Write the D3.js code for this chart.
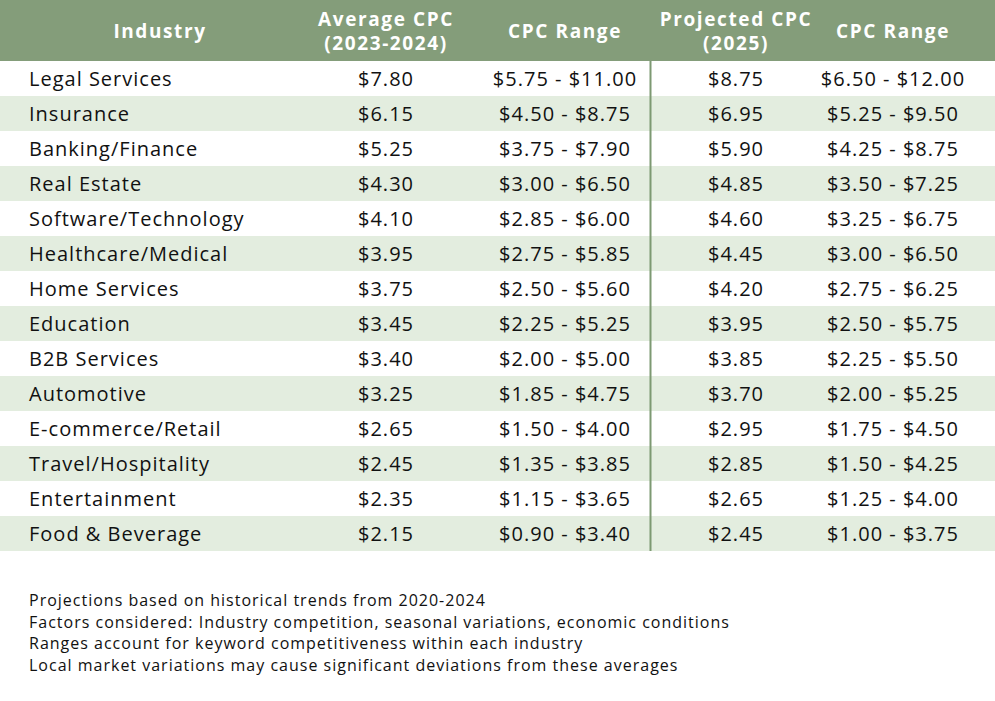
<!DOCTYPE html>
<html><head><meta charset="utf-8">
<script src="https://cdn.jsdelivr.net/npm/d3@7"></script>
<style>
html,body{margin:0;padding:0;background:#fff;}
svg{display:block;}
</style></head>
<body>
<svg id="chart" width="995" height="701"></svg>
<script>
const headers = [["Industry"], ["Average CPC", "(2023-2024)"], ["CPC Range"], ["Projected CPC", "(2025)"], ["CPC Range"]];
const industries = ["Legal Services","Insurance","Banking/Finance","Real Estate","Software/Technology","Healthcare/Medical","Home Services","Education","B2B Services","Automotive","E-commerce/Retail","Travel/Hospitality","Entertainment","Food & Beverage"];
const avgCpc = [7.80,6.15,5.25,4.30,4.10,3.95,3.75,3.45,3.40,3.25,2.65,2.45,2.35,2.15];
const avgLow = [5.75,4.50,3.75,3.00,2.85,2.75,2.50,2.25,2.00,1.85,1.50,1.35,1.15,0.90];
const avgHigh = [11.00,8.75,7.90,6.50,6.00,5.85,5.60,5.25,5.00,4.75,4.00,3.85,3.65,3.40];
const projCpc = [8.75,6.95,5.90,4.85,4.60,4.45,4.20,3.95,3.85,3.70,2.95,2.85,2.65,2.45];
const projLow = [6.50,5.25,4.25,3.50,3.25,3.00,2.75,2.50,2.25,2.00,1.75,1.50,1.25,1.00];
const projHigh = [12.00,9.50,8.75,7.25,6.75,6.50,6.25,5.75,5.50,5.25,4.50,4.25,4.00,3.75];
const notes = ["Projections based on historical trends from 2020-2024","Factors considered: Industry competition, seasonal variations, economic conditions","Ranges account for keyword competitiveness within each industry","Local market variations may cause significant deviations from these averages"];

const W = 995, H = 701;
const font = "'Open Sans', Lato, sans-serif";
const svg = d3.select("#chart");
const fmt = d3.format("$.2f");

const headerH = 61;
const y = d3.scaleBand().domain(industries).range([headerH, headerH + 35*industries.length]);
const colCenters = [160, 386, 565, 736, 893];
const textLeft = 29;

// header
svg.append("rect").attr("x",0).attr("y",0).attr("width",W).attr("height",headerH).attr("fill","#849d7a");
headers.forEach((lines,i)=>{
  const y0 = lines.length===1 ? 37.5 : 25.5;
  lines.forEach((l,j)=>{
    svg.append("text").attr("x",colCenters[i]).attr("y",y0 + j*24.5).attr("text-anchor","middle")
      .attr("font-family",font).attr("font-weight",700).attr("font-size",19).attr("letter-spacing",1.6)
      .attr("fill","#fff").text(l);
  });
});

const rows = industries.map((d,i)=>({
  name:d,
  cells:[fmt(avgCpc[i]), fmt(avgLow[i])+" - "+fmt(avgHigh[i]), fmt(projCpc[i]), fmt(projLow[i])+" - "+fmt(projHigh[i])]
}));

const g = svg.selectAll("g.row").data(rows).join("g").attr("class","row")
  .attr("transform",d=>`translate(0,${y(d.name)})`);
g.append("rect").attr("x",0).attr("width",W).attr("height",y.bandwidth())
  .attr("fill",(d,i)=> i%2===1 ? "#e3eddf" : "#ffffff");
g.append("text").attr("x",textLeft).attr("y",y.bandwidth()/2).attr("dy","0.36em")
  .attr("font-family",font).attr("font-size",20).attr("letter-spacing",1.0).attr("fill","#111").text(d=>d.name);
g.selectAll("text.c").data(d=>d.cells).join("text").attr("class","c")
  .attr("x",(d,i)=>colCenters[i+1]).attr("y",y.bandwidth()/2).attr("dy","0.36em")
  .attr("text-anchor","middle").attr("font-family",font).attr("font-size",20).attr("letter-spacing",1.0).attr("fill","#111")
  .text(d=>d);

// separator
svg.append("line").attr("x1",650.5).attr("x2",650.5).attr("y1",headerH).attr("y2",y.range()[1])
  .attr("stroke","#7d9972").attr("stroke-width",2);

// notes
svg.selectAll("text.note").data(notes).join("text").attr("class","note")
  .attr("x",textLeft).attr("y",(d,i)=>606+i*21.5)
  .attr("font-family",font).attr("font-size",16).attr("letter-spacing",1.0).attr("fill","#111").text(d=>d);
</script>
</body></html>
